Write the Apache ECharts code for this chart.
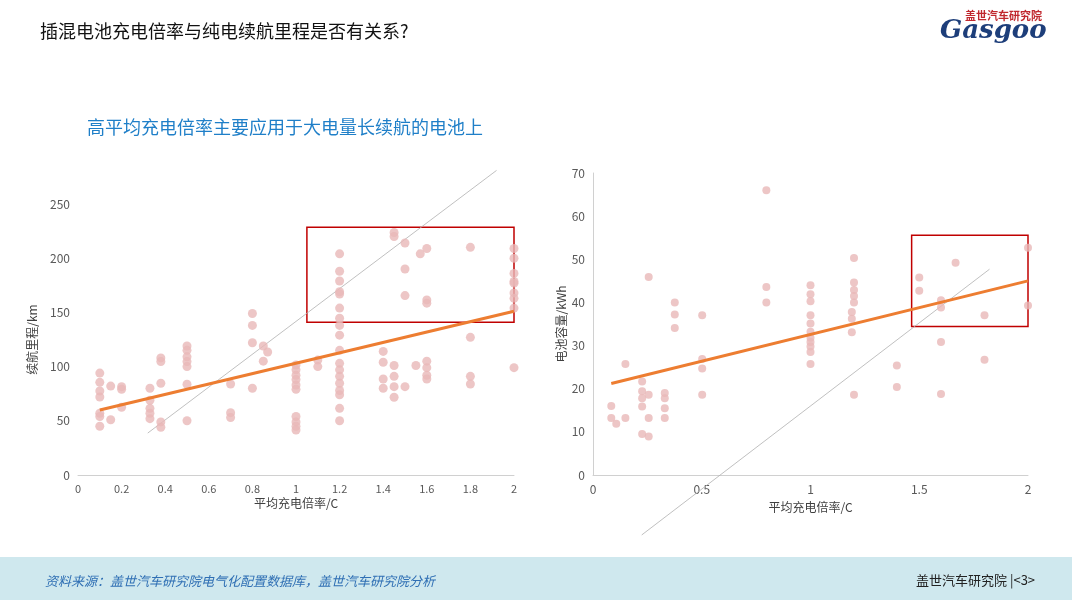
<!DOCTYPE html>
<html><head><meta charset="utf-8">
<script src="https://cdn.jsdelivr.net/npm/echarts@6/dist/echarts.min.js"></script>
<style>body{margin:0}#c{width:1072px;height:600px}</style></head>
<body><div id="c"></div>
<script>
// 左图：平均充电倍率 vs 纯电续航里程
var rangePoints = [
  [0.1,94],[0.1,85.5],[0.1,77.5],[0.1,72],[0.1,57],[0.1,54],[0.1,45],
  [0.15,82],[0.15,51],[0.2,81.5],[0.2,79],[0.2,62.5],
  [0.33,80],[0.33,69],[0.33,61.5],[0.33,57],[0.33,52],
  [0.38,108],[0.38,104.6],[0.38,84.6],[0.38,49],[0.38,44],
  [0.5,119],[0.5,115],[0.5,109],[0.5,104.6],[0.5,100],[0.5,83.7],[0.5,50],
  [0.7,84],[0.7,57.5],[0.7,53],
  [0.8,149],[0.8,138],[0.8,122],[0.8,80],[0.85,119],[0.85,105],[0.87,113.5],
  [1.0,101.5],[1.0,97],[1.0,92],[1.0,88],[1.0,83],[1.0,79],[1.0,54],[1.0,49],[1.0,45],[1.0,41.5],
  [1.1,106],[1.1,100],
  [1.2,204],[1.2,188],[1.2,179],[1.2,169],[1.2,167],[1.2,154],[1.2,144.6],[1.2,138],[1.2,129],
  [1.2,115],[1.2,103],[1.2,97],[1.2,91],[1.2,84.6],[1.2,78],[1.2,74],[1.2,61.5],[1.2,50],
  [1.4,114],[1.4,104],[1.4,88.6],[1.4,80],
  [1.45,223.7],[1.45,220],[1.45,101],[1.45,91],[1.45,81.5],[1.45,71.7],
  [1.5,214],[1.5,190],[1.5,165.5],[1.5,81.5],[1.57,204],[1.55,101],
  [1.6,209],[1.6,161.5],[1.6,158.5],[1.6,105],[1.6,99],[1.6,92],[1.6,88.6],
  [1.8,210],[1.8,127],[1.8,91],[1.8,84],
  [2.0,209],[2.0,200],[2.0,186],[2.0,178.5],[2.0,177],[2.0,168],[2.0,163],[2.0,154],[2.0,99]
];
var rangeTrend = [[0.1,60],[2.0,151]];
var rangeGuide = [[0.32,38.7],[1.92,281]];
var rangeBox = [[1.05,228.6],[2.09,141]];

// 右图：平均充电倍率 vs 电池容量
var capPoints = [
  [0.084,16],[0.084,13.2],[0.107,11.9],[0.149,25.7],[0.149,13.2],
  [0.226,21.7],[0.226,19.4],[0.226,17.8],[0.226,15.9],[0.226,9.5],
  [0.256,45.9],[0.256,18.6],[0.256,13.2],[0.256,8.9],
  [0.33,19],[0.33,17.8],[0.33,15.5],[0.33,13.2],
  [0.376,40],[0.376,37.2],[0.376,34.1],
  [0.502,37],[0.502,26.9],[0.502,24.7],[0.502,18.6],
  [0.797,66],[0.797,43.6],[0.797,40],
  [1.0,44],[1.0,41.9],[1.0,40.3],[1.0,37],[1.0,35.1],[1.0,33.2],[1.0,31.8],[1.0,30.8],[1.0,29.8],[1.0,28.5],[1.0,25.7],
  [1.2,50.3],[1.2,44.6],[1.2,42.9],[1.2,41.5],[1.2,40],[1.19,37.8],[1.19,36.2],[1.19,33.1],[1.2,18.6],
  [1.397,25.4],[1.397,20.4],[1.5,45.8],[1.5,42.7],
  [1.6,40.5],[1.6,38.8],[1.6,30.8],[1.6,18.8],[1.667,49.2],
  [1.8,37],[1.8,26.7],[2.0,52.7],[2.0,39.3]
];
var capTrend = [[0.084,21.2],[2.0,45]];
var capGuide = [[0.224,-13.9],[1.823,47.7]];
var capBox = [[1.465,55.6],[2.09,34.4]];

var leftTicks = ['0','0.2','0.4','0.6','0.8','1','1.2','1.4','1.6','1.8','2'];

var font = '"Noto Sans CJK SC", "Microsoft YaHei", sans-serif';
var ptColor = '#e8b8b8';
var axisCommon = {
  axisLine: {show: true, lineStyle: {color: '#d0d0d0'}},
  axisTick: {show: false},
  splitLine: {show: false},
  axisLabel: {color: '#595959', fontSize: 12, fontFamily: font},
  nameTextStyle: {color: '#404040', fontSize: 12, fontFamily: font}
};
function extra(guide, box, xi) {
  return [
    {type: 'line', xAxisIndex: xi, yAxisIndex: xi, data: guide, symbol: 'none', silent: true,
     clip: false, lineStyle: {color: '#b0b0b0', width: 0.8}, z: 1},
    {type: 'line', xAxisIndex: xi, yAxisIndex: xi, data: [], silent: true,
     markArea: {silent: true, itemStyle: {color: 'rgba(0,0,0,0)', borderColor: '#c00000', borderWidth: 1.5},
       data: [[{coord: box[0]}, {coord: box[1]}]]}}
  ];
}

var chart = echarts.init(document.getElementById('c'));
chart.setOption({
  backgroundColor: '#fff',
  animation: false,
  graphic: [
    {type: 'rect', shape: {x: 0, y: 557, width: 1072, height: 43}, style: {fill: '#cfe8ee'}},
    {type: 'text', left: 40, top: 22, style: {text: '插混电池充电倍率与纯电续航里程是否有关系?', font: '18px ' + font, fill: '#111'}},
    {type: 'text', left: 87, top: 118, style: {text: '高平均充电倍率主要应用于大电量长续航的电池上', font: '18px ' + font, fill: '#1f7fc8'}},
    {type: 'text', left: 965, top: 10, style: {text: '盖世汽车研究院', font: 'bold 11px ' + font, fill: '#c0282e'}},
    {type: 'text', left: 940, top: 18, style: {text: 'Gasgoo', font: 'italic bold 26px "DejaVu Serif", serif', fill: '#1d3e7a'}},
    {type: 'text', left: 45, top: 575, style: {text: '资料来源：盖世汽车研究院电气化配置数据库，盖世汽车研究院分析', font: 'italic 13px ' + font, fill: '#2f6fb4'}},
    {type: 'text', left: 916, top: 574, style: {text: '盖世汽车研究院 |<3>', font: '13px ' + font, fill: '#222'}}
  ],
  grid: [
    {left: 78, right: 558, top: 204, bottom: 125},
    {left: 593, right: 44, top: 173, bottom: 125}
  ],
  xAxis: [
    Object.assign({}, axisCommon, {gridIndex: 0, type: 'value', min: 0, max: 2, interval: 0.2,
      name: '平均充电倍率/C', nameLocation: 'middle', nameGap: 22,
      axisLabel: Object.assign({}, axisCommon.axisLabel, {fontSize: 11, formatter: function (v) { return leftTicks[Math.round(v / 0.2)]; }})}),
    Object.assign({}, axisCommon, {gridIndex: 1, type: 'value', min: 0, max: 2, interval: 0.5,
      name: '平均充电倍率/C', nameLocation: 'middle', nameGap: 26})
  ],
  yAxis: [
    Object.assign({}, axisCommon, {gridIndex: 0, type: 'value', min: 0, max: 250, interval: 50,
      axisLine: {show: false}, name: '续航里程/km', nameLocation: 'middle', nameGap: 40}),
    Object.assign({}, axisCommon, {gridIndex: 1, type: 'value', min: 0, max: 70, interval: 10,
      name: '电池容量/kWh', nameLocation: 'middle', nameGap: 24})
  ],
  series: [
    {type: 'scatter', xAxisIndex: 0, yAxisIndex: 0, data: rangePoints, symbolSize: 9, itemStyle: {color: ptColor}},
    {type: 'line', xAxisIndex: 0, yAxisIndex: 0, data: rangeTrend, symbol: 'none', lineStyle: {color: '#ed7d31', width: 3}, z: 3}
  ].concat(extra(rangeGuide, rangeBox, 0)).concat([
    {type: 'scatter', xAxisIndex: 1, yAxisIndex: 1, data: capPoints, symbolSize: 8, itemStyle: {color: ptColor}},
    {type: 'line', xAxisIndex: 1, yAxisIndex: 1, data: capTrend, symbol: 'none', lineStyle: {color: '#ed7d31', width: 3}, z: 3}
  ]).concat(extra(capGuide, capBox, 1))
});
</script></body></html>
